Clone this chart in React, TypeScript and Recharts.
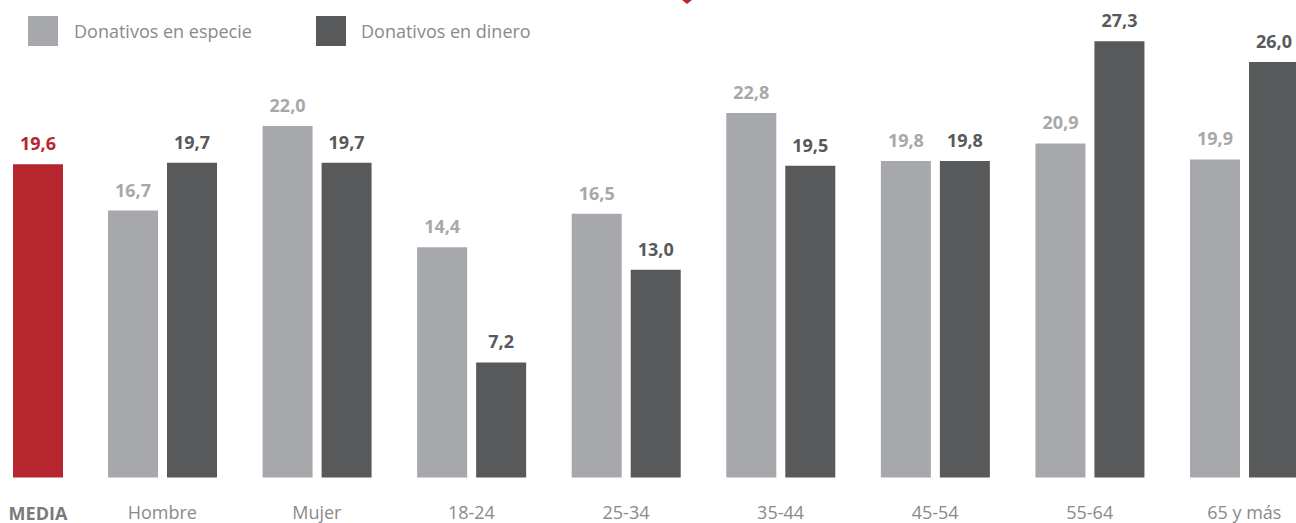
import React from 'react';
import { BarChart, Bar, XAxis, YAxis, LabelList } from 'recharts';

const categories = ['Hombre', 'Mujer', '18-24', '25-34', '35-44', '45-54', '55-64', '65 y más'];
const especie = [16.7, 22.0, 14.4, 16.5, 22.8, 19.8, 20.9, 19.9];
const dinero = [19.7, 19.7, 7.2, 13.0, 19.5, 19.8, 27.3, 26.0];
const mediaCategory = ['MEDIA'];
const mediaValue = [19.6];
const seriesNames = ['Donativos en especie', 'Donativos en dinero'];

const FONT = '"Open Sans", "Noto Sans", sans-serif';
const RED = '#b7262f';
const LIGHT = '#a7a8ab';
const DARK = '#58595b';
const TEXT = '#8a8a8a';

const groupData = categories.map((c, i) => ({ cat: c, especie: especie[i], dinero: dinero[i] }));
const mediaData = mediaCategory.map((c, i) => ({ cat: c, media: mediaValue[i] }));

const fmt = (v: any) => (typeof v === 'number' ? v.toFixed(1).replace('.', ',') : v);

const CatTick = (props: any) => {
  const { x, y, payload, bold } = props;
  return (
    <text
      x={x}
      y={y + 34}
      textAnchor="middle"
      fontFamily={FONT}
      fontSize={18}
      fontWeight={bold ? 700 : 400}
      fill={bold ? '#7a7a7a' : TEXT}
    >
      {payload.value}
    </text>
  );
};

const H = 523;
const MARGIN = { top: 14, right: 0, bottom: 0, left: 0 };
const DOMAIN: [number, number] = [0, 29];

export default function App() {
  return (
    <div
      style={{
        position: 'absolute',
        left: 0,
        top: 0,
        width: 1296,
        height: 523,
        overflow: 'hidden',
        background: '#fff',
        fontFamily: FONT,
      }}
    >
      <svg style={{ position: 'absolute', left: 0, top: 0 }} width={1296} height={10}>
        <polygon points="682,0 692,0 687,4" fill={RED} />
      </svg>
      <div style={{ position: 'absolute', left: 28, top: 16, width: 30, height: 30, background: LIGHT }} />
      <div
        style={{
          position: 'absolute',
          left: 74,
          top: 16,
          height: 30,
          lineHeight: '30px',
          fontSize: 18,
          color: TEXT,
          whiteSpace: 'nowrap',
        }}
      >
        {seriesNames[0]}
      </div>
      <div style={{ position: 'absolute', left: 316, top: 16, width: 30, height: 30, background: DARK }} />
      <div
        style={{
          position: 'absolute',
          left: 361,
          top: 16,
          height: 30,
          lineHeight: '30px',
          fontSize: 18,
          color: TEXT,
          whiteSpace: 'nowrap',
        }}
      >
        {seriesNames[1]}
      </div>

      <div style={{ position: 'absolute', left: 0, top: 0 }}>
        <BarChart width={76} height={H} data={mediaData} margin={MARGIN} barCategoryGap={0}>
          <XAxis
            dataKey="cat"
            axisLine={false}
            tickLine={false}
            height={45.5}
            interval={0}
            tick={<CatTick bold />}
          />
          <YAxis hide domain={DOMAIN} />
          <Bar dataKey="media" fill={RED} barSize={50} isAnimationActive={false}>
            <LabelList
              dataKey="media"
              position="top"
              offset={14}
              formatter={fmt}
              fill={RED}
              fontFamily={FONT}
              fontSize={18}
              fontWeight={700}
            />
          </Bar>
        </BarChart>
      </div>

      <div style={{ position: 'absolute', left: 85.2, top: 0 }}>
        <BarChart width={1236.6} height={H} data={groupData} margin={MARGIN} barGap={9}>
          <XAxis
            dataKey="cat"
            axisLine={false}
            tickLine={false}
            height={45.5}
            interval={0}
            tick={<CatTick />}
          />
          <YAxis hide domain={DOMAIN} />
          <Bar dataKey="especie" fill={LIGHT} barSize={50} isAnimationActive={false}>
            <LabelList
              dataKey="especie"
              position="top"
              offset={14}
              formatter={fmt}
              fill={LIGHT}
              fontFamily={FONT}
              fontSize={18}
              fontWeight={700}
            />
          </Bar>
          <Bar dataKey="dinero" fill={DARK} barSize={50} isAnimationActive={false}>
            <LabelList
              dataKey="dinero"
              position="top"
              offset={14}
              formatter={fmt}
              fill={DARK}
              fontFamily={FONT}
              fontSize={18}
              fontWeight={700}
            />
          </Bar>
        </BarChart>
      </div>
    </div>
  );
}
